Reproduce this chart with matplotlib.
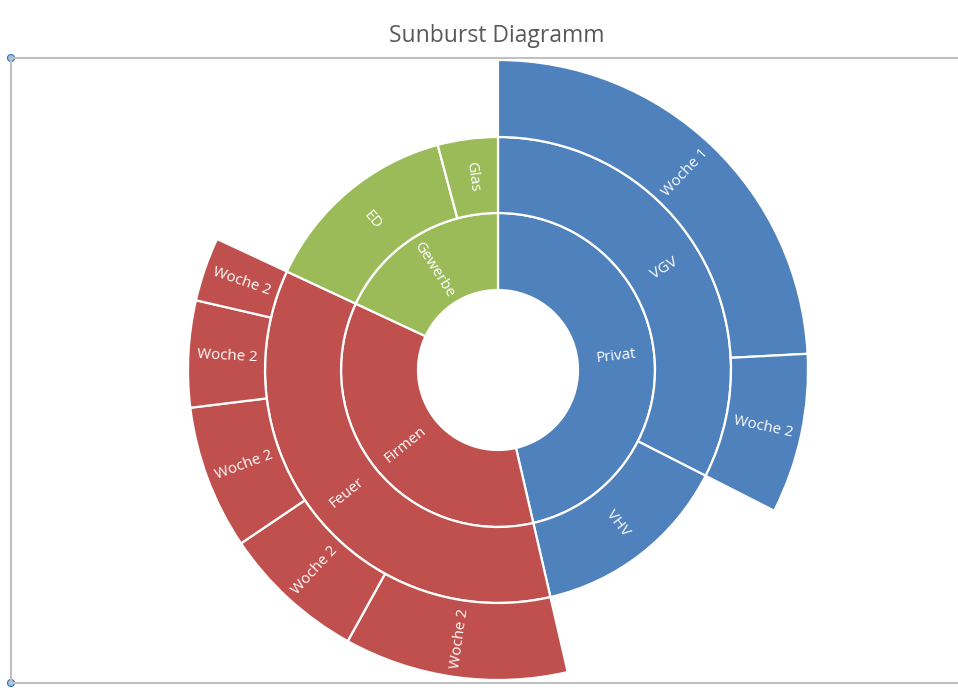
import matplotlib
matplotlib.use("Agg")
import matplotlib.pyplot as plt
import numpy as np
from matplotlib.patches import Wedge, Circle
from matplotlib.lines import Line2D

# leaf rows of the hierarchy (clockwise from 12 o'clock)
leaf_l1 = ["Privat", "Privat", "Privat", "Firmen", "Firmen", "Firmen", "Firmen", "Firmen", "Gewerbe", "Gewerbe"]
leaf_l2 = ["VGV", "VGV", "VHV", "Feuer", "Feuer", "Feuer", "Feuer", "Feuer", "ED", "Glas"]
leaf_l3 = ["Woche 1", "Woche 2", None, "Woche 2", "Woche 2", "Woche 2", "Woche 2", "Woche 2", None, None]
values = [87, 30, 50, 42, 27, 27, 20, 12, 50, 15]

group_colors = {"Privat": "#4F81BD", "Firmen": "#C0504D", "Gewerbe": "#9BBB59"}

W, H = 958, 688
CX, CY = 498, H - 370
RADII = [80, 157, 233, 310]

fig = plt.figure(figsize=(W / 100, H / 100), dpi=100)
ax = fig.add_axes([0, 0, 1, 1])
ax.set_xlim(0, W)
ax.set_ylim(0, H)
ax.set_aspect("equal")
ax.axis("off")

vals = np.array(values, dtype=float)
ends = np.cumsum(vals) / vals.sum() * 360.0
starts = np.concatenate([[0.0], ends[:-1]])


def runs(keys, labels):
    # contiguous runs of identical keys -> (label, start_angle, end_angle, group)
    out = []
    i = 0
    n = len(keys)
    while i < n:
        j = i
        while j + 1 < n and keys[j + 1] == keys[i]:
            j += 1
        out.append((labels[i], starts[i], ends[j], leaf_l1[i]))
        i = j + 1
    return out


def draw_ring(segs, r_in, r_out):
    for label, a0, a1, grp in segs:
        if label is None:
            continue
        w = Wedge((CX, CY), r_out, 90 - a1, 90 - a0, width=r_out - r_in,
                  facecolor=group_colors[grp], edgecolor="white", linewidth=1.6)
        ax.add_patch(w)
        mid = (a0 + a1) / 2
        r_mid = (r_in + r_out) / 2
        x = CX + r_mid * np.sin(np.radians(mid))
        y = CY + r_mid * np.cos(np.radians(mid))
        # radial text, flipped so it never reads upside down
        rot = (90 - mid + 180) % 360 - 180
        if rot > 90:
            rot -= 180
        elif rot <= -90:
            rot += 180
        ax.text(x, y, label, color="white", fontsize=10.8, family="Open Sans",
                rotation=rot, rotation_mode="anchor", ha="center", va="center")


draw_ring(runs(leaf_l1, leaf_l1), RADII[0], RADII[1])
keys2 = [f"{a}|{b}" for a, b in zip(leaf_l1, leaf_l2)]
draw_ring(runs(keys2, leaf_l2), RADII[1], RADII[2])
segs3 = [(leaf_l3[i], starts[i], ends[i], leaf_l1[i]) for i in range(len(values))]
draw_ring(segs3, RADII[2], RADII[3])

# title
fig.text(497 / W, 1 - 36 / H, "Sunburst Diagramm", ha="center", va="center",
         fontsize=16.5, color="#595959", family="Open Sans")

# chart-area frame (selection border)
frame = "#C0C0C0"
fig.add_artist(Line2D([11 / W, 1], [1 - 58 / H, 1 - 58 / H], color=frame, lw=1.5))
fig.add_artist(Line2D([11 / W, 1], [1 - 683 / H, 1 - 683 / H], color=frame, lw=1.5))
fig.add_artist(Line2D([11 / W, 11 / W], [1 - 58 / H, 1 - 683 / H], color=frame, lw=1.5))
for yy in (58, 683):
    ax.add_patch(Circle((11, H - yy), 3.5, facecolor="#9DC3E6", edgecolor="#2E75B6",
                        linewidth=0.8, clip_on=False, zorder=5))

fig.savefig("out.png", dpi=100)
